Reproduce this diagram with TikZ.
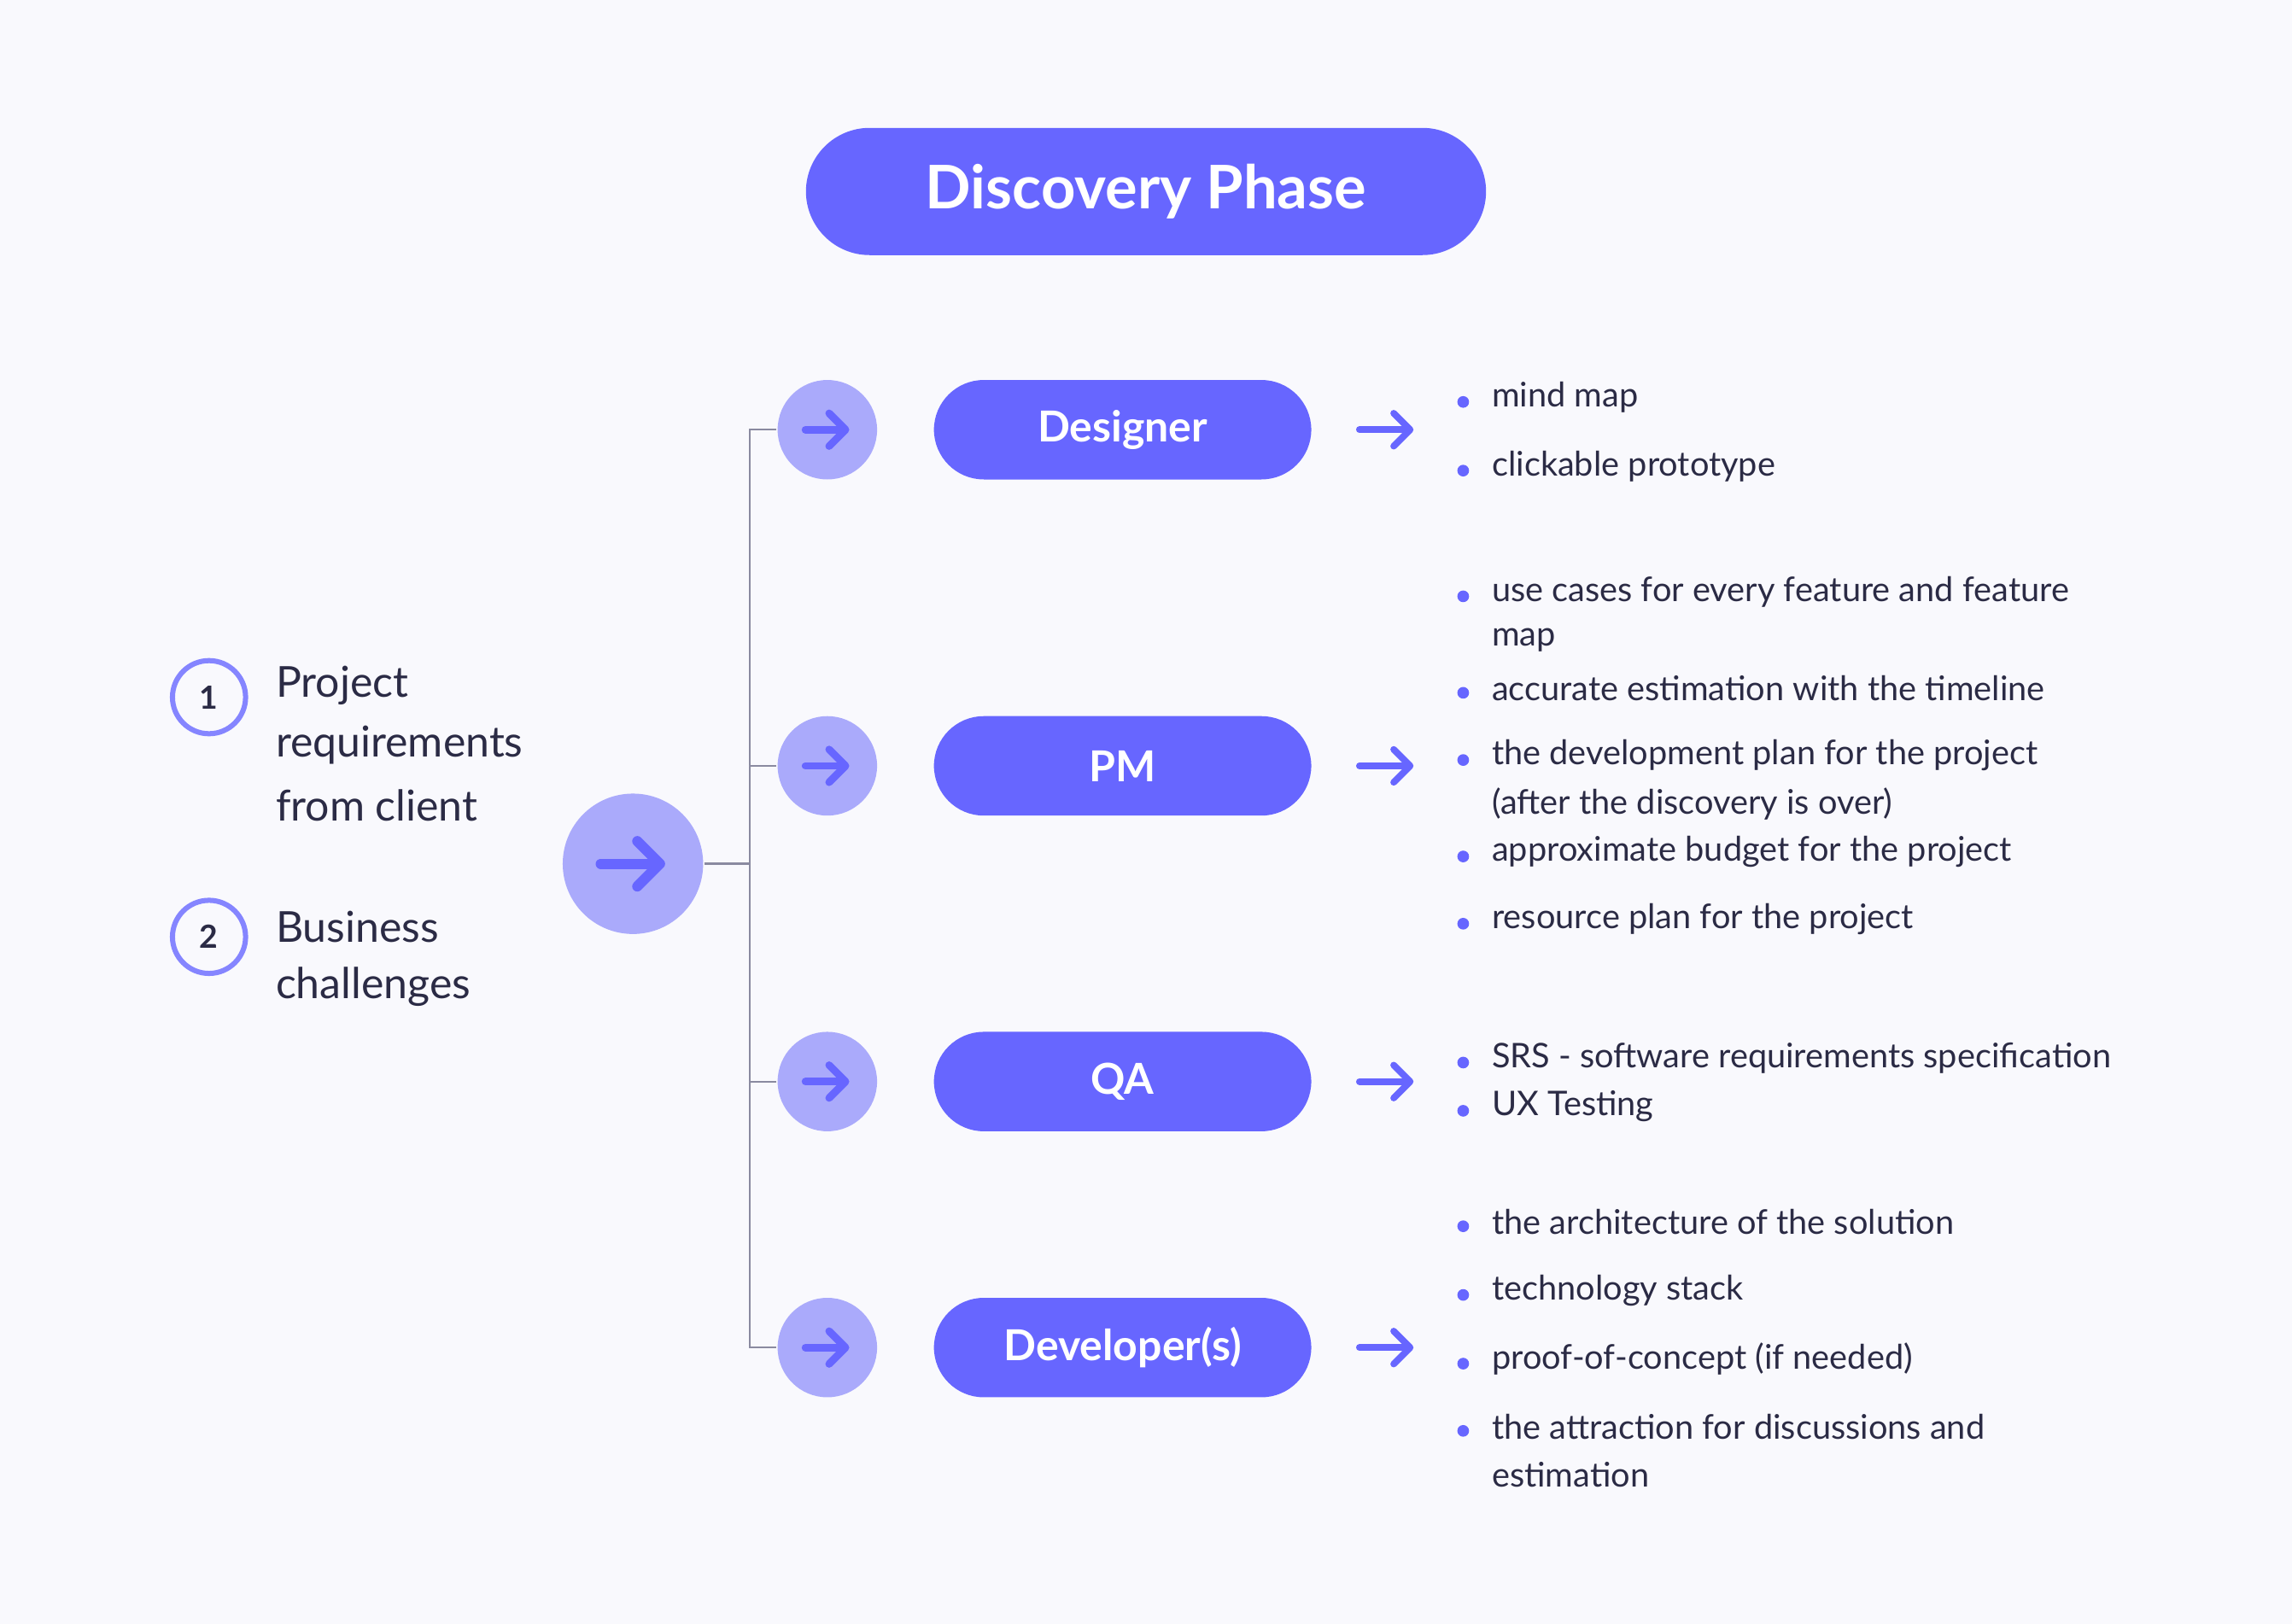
\documentclass[tikz,border=0pt]{standalone}
\usepackage{fontspec}
\setmainfont{Lato}
\usetikzlibrary{arrows.meta, positioning, calc}
\definecolor{bgcol}{HTML}{F9F9FD}
\definecolor{mainblue}{HTML}{6766FF}
\definecolor{lightblue}{HTML}{AAAAFB}
\definecolor{inkcol}{HTML}{2B2B45}
\definecolor{linecol}{HTML}{8A8AA0}
\begin{document}
\begin{tikzpicture}[x=0.01cm, y=-0.01cm,
  pill/.style={fill=mainblue, rounded corners=9.7pt, minimum width=2.58cm, minimum height=0.68cm, text=white, font=\fontsize{8.3}{10}\selectfont\bfseries},
  dot/.style={circle, fill=lightblue, minimum size=0.68cm, inner sep=0pt},
  go/.style={mainblue, line width=1.45pt, line cap=round, -{Straight Barb[round, length=3.2pt, width=6.4pt]}},
  num/.style={circle, draw=mainblue!80, line width=1pt, minimum size=0.5cm, inner sep=0pt, text=inkcol, font=\fontsize{6.2}{7}\selectfont\bfseries},
  item/.style={anchor=west, inner sep=0pt, text=inkcol, font=\fontsize{6.6}{8}\selectfont},
  lhs/.style={anchor=west, inner sep=0pt, text=inkcol, font=\fontsize{8.3}{10}\selectfont}
]
\fill[bgcol] (0,0) rectangle (1568,1111);

% title
\node[fill=mainblue, rounded corners=12.4pt, minimum width=4.65cm, minimum height=0.87cm, text=white, font=\fontsize{11.7}{14}\selectfont\bfseries] (title) at (784,131) {Discovery Phase};

% inputs
\node[num] (n1) at (143,477) {1};
\node[num] (n2) at (143,641) {2};
\node[lhs] (t1a) at (188,469) {Project};
\node[lhs] (t1b) at (188,510) {requirements};
\node[lhs] (t1c) at (188,551) {from client};
\node[lhs] (t2a) at (188,634) {Business};
\node[lhs] (t2b) at (188,675) {challenges};

% central arrow
\node[circle, fill=lightblue, minimum size=0.96cm, inner sep=0pt] (hub) at (433,591) {};
\draw[go, line width=2pt, -{Straight Barb[round, length=4.4pt, width=8.8pt]}] ($(hub)+(-22,0)$) -- ($(hub)+(22,0)$);
\coordinate (bus) at (513,591);
\draw[linecol, line width=0.4pt] (hub.east) -- (bus);

% roles
\foreach \name/\txt/\y in {des/Designer/294, pm/PM/524, qa/QA/740, dev/Developer(s)/922}{
  \node[dot] (c\name) at (566,\y) {};
  \draw[go] ($(c\name)+(-15,0)$) -- ($(c\name)+(15,0)$);
  \draw[linecol, line width=0.4pt] (bus) |- (c\name.west);
  \node[pill] (r\name) at (768,\y) {\txt};
  \coordinate (a\name) at (930,\y);
  \draw[go, line width=1.3pt] (a\name) -- ++(37,0);
}

% outcomes
\foreach \y/\b/\txt in {
  272/1/mind map, 319/1/clickable prototype,
  405/1/use cases for every feature and feature, 438/0/map,
  471/1/accurate estimation with the timeline,
  517/1/the development plan for the project, 550/0/(after the discovery is over),
  583/1/approximate budget for the project, 629/1/resource plan for the project,
  724/1/SRS - software requirements specification, 757/1/UX Testing,
  836/1/the architecture of the solution, 883/1/technology stack,
  930/1/proof-of-concept (if needed),
  976/1/the attraction for discussions and, 1009/0/estimation}{
  \node[item] (o\y) at (1020,\y) {\txt};
  \ifnum\b=1 \fill[mainblue] (1001,\y+3) circle (4); \fi
}
\end{tikzpicture}
\end{document}
